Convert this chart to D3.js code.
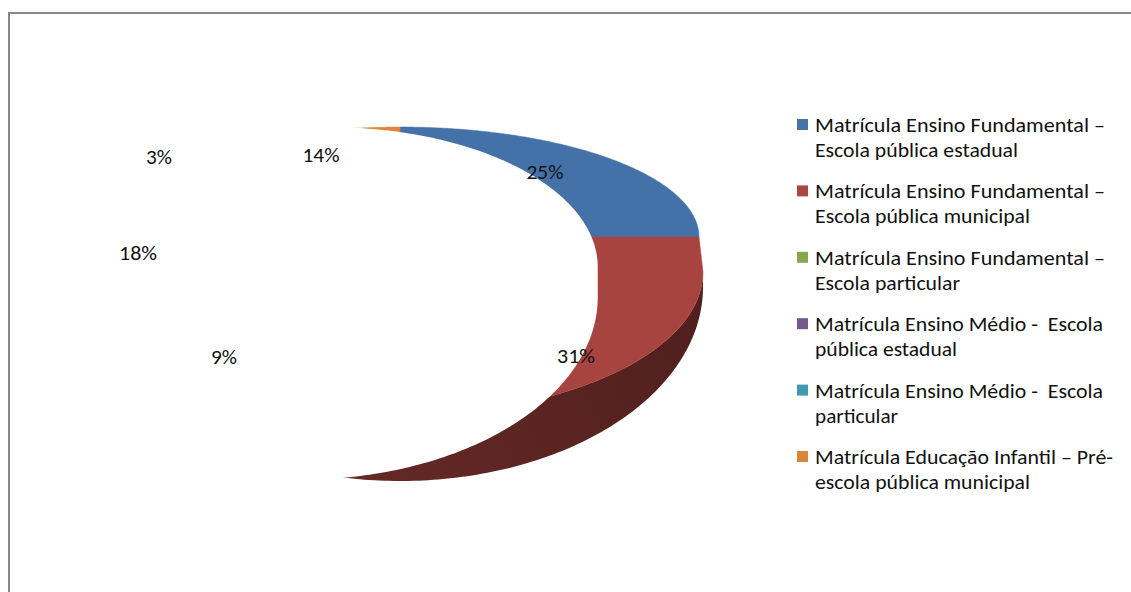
<!DOCTYPE html>
<html>
<head>
<meta charset="utf-8">
<script src="https://cdn.jsdelivr.net/npm/d3@7"></script>
<style>
  html, body { margin: 0; padding: 0; background: #fff; }
  svg { display: block; }
  text { font-family: Carlito, Calibri, Lato, "Open Sans", sans-serif; fill: #111; }
</style>
</head>
<body>
<svg id="chart" width="1131" height="592"></svg>
<script>
// ---- data ----
const categories = [
  ["Matrícula Ensino Fundamental –", "Escola pública estadual"],
  ["Matrícula Ensino Fundamental –", "Escola pública municipal"],
  ["Matrícula Ensino Fundamental –", "Escola particular"],
  ["Matrícula Ensino Médio -  Escola", "pública estadual"],
  ["Matrícula Ensino Médio -  Escola", "particular"],
  ["Matrícula Educação Infantil – Pré-", "escola pública municipal"]
];
const values = [25, 31, 9, 18, 3, 14];
const colors = ["#4572A7", "#AA4643", "#89A54E", "#71588F", "#4198AF", "#DB843D"];
const pieColors = ["#4571A9", "#A8443F", "#89A54E", "#71588F", "#4198AF", "#E0853A"];

// ---- layout ----
const svg = d3.select("#chart");
const W = 1131, H = 592;

// tilted pie geometry: each outline has an upper half (U) and a lower half (L)
const topFace = {U: {cx: 400, cy: 237, rx: 299, ry: 110}, L: {cx: 400, cy: 272, rx: 303, ry: 143}};
const botFace = {U: {cx: 400, cy: 287, rx: 303, ry: 160}, L: {cx: 400, cy: 287, rx: 303, ry: 194}};
const hole    = {U: {cx: 330, cy: 267, rx: 267, ry: 139}, L: {cx: 300, cy: 297, rx: 297, ry: 182}};

const HALF = Math.PI / 2, THREE = 3 * Math.PI / 2;
function proj(e, a, upper) {
  const h = upper ? e.U : e.L;
  return [h.cx + h.rx * Math.sin(a), h.cy - h.ry * Math.cos(a)];
}
function isUpper(a) {
  const m = ((a % (2 * Math.PI)) + 2 * Math.PI) % (2 * Math.PI);
  return m <= HALF + 1e-9 || m >= THREE - 1e-9;
}
// outline points from angle a0 to a1 (clockwise from 12 o'clock), seams inserted
function rim(e, a0, a1, n) {
  const pts = [];
  let prev = null;
  for (let i = 0; i <= n; i++) {
    const a = a0 + (a1 - a0) * i / n;
    let up = isUpper(a);
    if (Math.abs(a - HALF) < 1e-9) up = true;
    if (prev !== null && prev !== up) {
      const seam = up ? THREE : HALF;
      pts.push(proj(e, seam, prev));
      pts.push(proj(e, seam, up));
    }
    pts.push(proj(e, a, up));
    prev = up;
  }
  return pts;
}

const pie = d3.pie().sort(null).value(d => d)(values);
const line = d3.line();

const defs = svg.append("defs");
const grads = pieColors.map((c, i) => {
  const g = defs.append("linearGradient").attr("id", "side" + i)
    .attr("gradientUnits", "userSpaceOnUse")
    .attr("x1", 710).attr("y1", 300).attr("x2", 330).attr("y2", 480);
  g.append("stop").attr("offset", 0).attr("stop-color", d3.rgb(c).darker(2.1));
  g.append("stop").attr("offset", 1).attr("stop-color", d3.rgb(c).darker(1.4));
  return "url(#side" + i + ")";
});

// side walls on the front half
pie.forEach((d, i) => {
  const a0 = Math.max(d.startAngle, HALF);
  const a1 = Math.min(d.endAngle, THREE);
  if (a1 <= a0) return;
  const n = 120, ang = [];
  for (let k = 0; k <= n; k++) ang.push(a0 + (a1 - a0) * k / n);
  const pts = ang.map(a => proj(topFace, a, false))
    .concat(ang.slice().reverse().map(a => proj(botFace, a, false)));
  svg.append("path").attr("d", line(pts) + "Z").attr("fill", grads[i]);
});

// top faces
pie.forEach((d, i) => {
  const pts = [[topFace.U.cx, topFace.U.cy]].concat(rim(topFace, d.startAngle, d.endAngle, 160));
  svg.append("path").attr("d", line(pts) + "Z").attr("fill", pieColors[i])
    .attr("stroke", pieColors[i]).attr("stroke-width", 0.5);
});

// unrendered white region
{
  const pts = rim(hole, 0, 2 * Math.PI, 400);
  svg.append("path").attr("d", line(pts) + "Z").attr("fill", "#fff")
    .attr("stroke", "#fff").attr("stroke-width", 1.5);
}

// frame (top and left edges)
svg.append("line").attr("x1", 9).attr("x2", W).attr("y1", 13).attr("y2", 13)
  .attr("stroke", "#888").attr("stroke-width", 2);
svg.append("line").attr("x1", 9).attr("x2", 9).attr("y1", 12).attr("y2", H)
  .attr("stroke", "#888").attr("stroke-width", 2);

// data labels
const labelPos = [[545, 179, 37], [576, 363, 38], [224, 364, 26], [138, 260, 38], [159, 164, 26], [321, 162, 37]];
svg.append("g").selectAll("text").data(values).join("text")
  .attr("x", (d, i) => labelPos[i][0] - labelPos[i][2] / 2)
  .attr("y", (d, i) => labelPos[i][1])
  .attr("font-size", 20)
  .attr("textLength", (d, i) => labelPos[i][2])
  .attr("lengthAdjust", "spacingAndGlyphs")
  .text(d => d + "%");

// legend
const lineWidths = [[290, 203], [290, 215], [290, 145], [288, 142], [288, 83], [298, 215]];
const lg = svg.append("g");
const legendY = d3.scaleLinear().domain([0, 5]).range([132, 464]);
categories.forEach((lines, i) => {
  const y = legendY(i);
  lg.append("rect").attr("x", 797).attr("y", y - 13).attr("width", 11).attr("height", 11)
    .attr("fill", colors[i]);
  lines.forEach((t, j) => {
    lg.append("text").attr("x", 815).attr("y", y + j * 25)
      .attr("font-size", 20).style("white-space", "pre")
      .attr("textLength", lineWidths[i][j]).attr("lengthAdjust", "spacingAndGlyphs")
      .text(t);
  });
});
</script>
</body>
</html>
